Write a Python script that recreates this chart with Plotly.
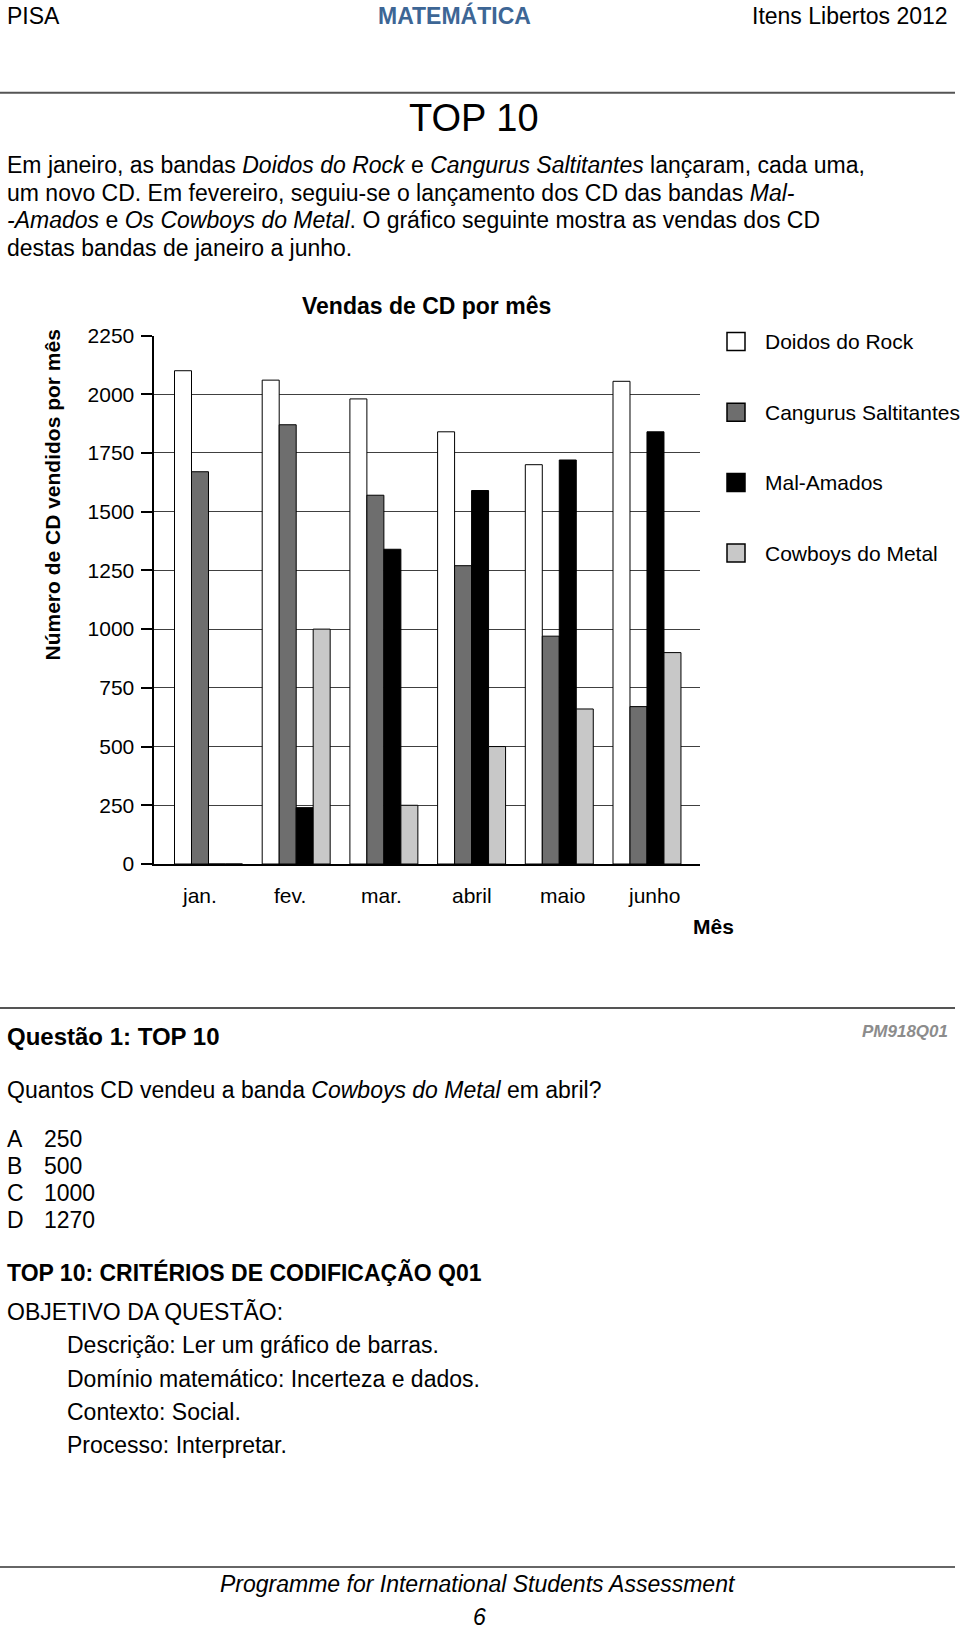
import plotly.graph_objects as go

# ---------------- data ----------------
months = ["jan.", "fev.", "mar.", "abril", "maio", "junho"]
bands = ["Doidos do Rock", "Cangurus Saltitantes", "Mal-Amados", "Cowboys do Metal"]
doidos_do_rock = [2100, 2060, 1980, 1840, 1700, 2055]
cangurus_saltitantes = [1670, 1870, 1570, 1270, 970, 670]
mal_amados = [0, 240, 1340, 1590, 1720, 1840]
cowboys_do_metal = [0, 1000, 250, 500, 660, 900]
y_tick_values = [0, 250, 500, 750, 1000, 1250, 1500, 1750, 2000, 2250]
y_tick_labels = ["0", "250", "500", "750", "1000", "1250", "1500", "1750", "2000", "2250"]

series = [doidos_do_rock, cangurus_saltitantes, mal_amados, cowboys_do_metal]
colors = ["#ffffff", "#6e6e6e", "#000000", "#c8c8c8"]

W, H = 960, 1632
FONT = "Liberation Sans, Arial, sans-serif"


def px(x):
    return x / W


def py(y):
    return 1 - y / H


fig = go.Figure()
for name, vals, col in zip(bands, series, colors):
    fig.add_trace(go.Bar(
        x=months, y=vals, name=name,
        marker=dict(color=col, line=dict(color="#000000", width=1)),
        showlegend=False, hoverinfo="skip",
    ))

x_range = [-0.627, 5.6]
x_domain = [px(153.5), px(699.6)]

fig.update_layout(
    template="none",
    width=W, height=H,
    margin=dict(l=0, r=0, t=0, b=0, pad=0, autoexpand=False),
    paper_bgcolor="white", plot_bgcolor="white",
    showlegend=False,
    barmode="group", bargap=0.225, bargroupgap=0,
    font=dict(family=FONT, color="#000000"),
    xaxis=dict(
        domain=x_domain, range=x_range, type="category",
        automargin=False,
        showline=True, linecolor="#000000", linewidth=2,
        ticks="", showgrid=False, zeroline=False,
        showticklabels=False,
    ),
    yaxis=dict(
        domain=[py(864), py(335.5)], range=[0, 2250],
        automargin=False,
        tickvals=y_tick_values, ticktext=y_tick_labels,
        ticks="outside", ticklen=11, tickwidth=1.5, tickcolor="#000000",
        showline=True, linecolor="#000000", linewidth=2,
        showgrid=True, gridcolor="#404040", gridwidth=1, zeroline=False,
        tickfont=dict(size=21, family=FONT, color="#000000"),
        ticklabelstandoff=2,
    ),
)

shapes = []
# x tick marks at group boundaries and axis ends
boundaries = [x_range[0]] + [i + 0.5 for i in range(len(months) - 1)] + [x_range[1]]
for b in boundaries:
    shapes.append(dict(type="line", xref="x", yref="y", ysizemode="pixel", yanchor=0,
                       x0=b, x1=b, y0=0, y1=-9, line=dict(color="#000000", width=2)))

# page rules
for yy, wdt, col in [(92.7, 2, "#555555"), (1008, 2, "#555555"), (1567, 1.5, "#333333")]:
    shapes.append(dict(type="line", xref="paper", yref="paper", x0=0, x1=px(955),
                       y0=py(yy), y1=py(yy), line=dict(color=col, width=wdt)))

# legend boxes
legend_y = [341.5, 412.3, 482.5, 553]
for yy, col in zip(legend_y, colors):
    shapes.append(dict(type="rect", xref="paper", yref="paper",
                       x0=px(727), x1=px(745), y0=py(yy - 9), y1=py(yy + 9),
                       fillcolor=col, line=dict(color="#000000", width=1.5)))

fig.update_layout(shapes=shapes)

ann = []


def text(x, y, t, size=23, xanchor="left", color="#000000", angle=0, yanchor="middle"):
    ann.append(dict(x=px(x), y=py(y), xref="paper", yref="paper", text=t,
                    showarrow=False, xanchor=xanchor, yanchor=yanchor,
                    textangle=angle,
                    font=dict(size=size, family=FONT, color=color)))


# month labels: centred in equal divisions of the x axis (as in the original)
for i, m in enumerate(months):
    ann.append(dict(x=(i + 0.5) / len(months), xref="x domain", y=0, yref="y",
                    yanchor="top", xanchor="center", yshift=-18, text=m, showarrow=False,
                    font=dict(size=21, family=FONT, color="#000000")))

# header
text(5, 15.6, "PISA")
text(454, 15.6, "<b>MATEMÁTICA</b>", xanchor="center", color="#3d6695")
text(950, 15.6, "Itens Libertos 2012", xanchor="right")
text(474, 117.7, "TOP 10", size=38, xanchor="center")

# intro paragraph
text(5, 164.5, "Em janeiro, as bandas <i>Doidos do Rock</i> e <i>Cangurus Saltitantes</i> lançaram, cada uma,")
text(5, 192.6, "um novo CD. Em fevereiro, seguiu-se o lançamento dos CD das bandas <i>Mal-</i>")
text(5, 219.7, "<i>-Amados</i> e <i>Os Cowboys do Metal</i>. O gráfico seguinte mostra as vendas dos CD")
text(5, 247.8, "destas bandas de janeiro a junho.")

# chart texts
text(426, 306, "<b>Vendas de CD por mês</b>", xanchor="center")
text(52, 495.5, "<b>Número de CD vendidos por mês</b>", size=21, xanchor="center", angle=-90)
text(713, 926.7, "<b>Mês</b>", size=21, xanchor="center")
for yy, name in zip(legend_y, bands):
    text(763, yy, name, size=21)

# question
text(5, 1036, "<b>Questão 1: TOP 10</b>", size=24)
text(950, 1031, "<b><i>PM918Q01</i></b>", size=17, xanchor="right", color="#8c8c8c")
text(5, 1090, "Quantos CD vendeu a banda <i>Cowboys do Metal</i> em abril?")
for yy, letter, val in zip([1139, 1166, 1193, 1220], ["A", "B", "C", "D"], ["250", "500", "1000", "1270"]):
    text(5, yy, letter)
    text(41.6, yy, val)

# coding criteria
text(5, 1272, "<b>TOP 10: CRITÉRIOS DE CODIFICAÇÃO Q01</b>")
text(5, 1312, "OBJETIVO DA QUESTÃO:")
for yy, t in zip([1345, 1378.5, 1411.8, 1445],
                 ["Descrição: Ler um gráfico de barras.",
                  "Domínio matemático: Incerteza e dados.",
                  "Contexto: Social.",
                  "Processo: Interpretar."]):
    text(64.5, yy, t)

# footer
text(478, 1583.7, "<i>Programme for International Students Assessment</i>", xanchor="center")
text(479, 1632, "<i>6</i>", xanchor="center", yanchor="bottom")

fig.update_layout(annotations=ann)
fig.write_html("out.html", config={"displayModeBar": False},
               post_script="document.body.style.margin='0';")
